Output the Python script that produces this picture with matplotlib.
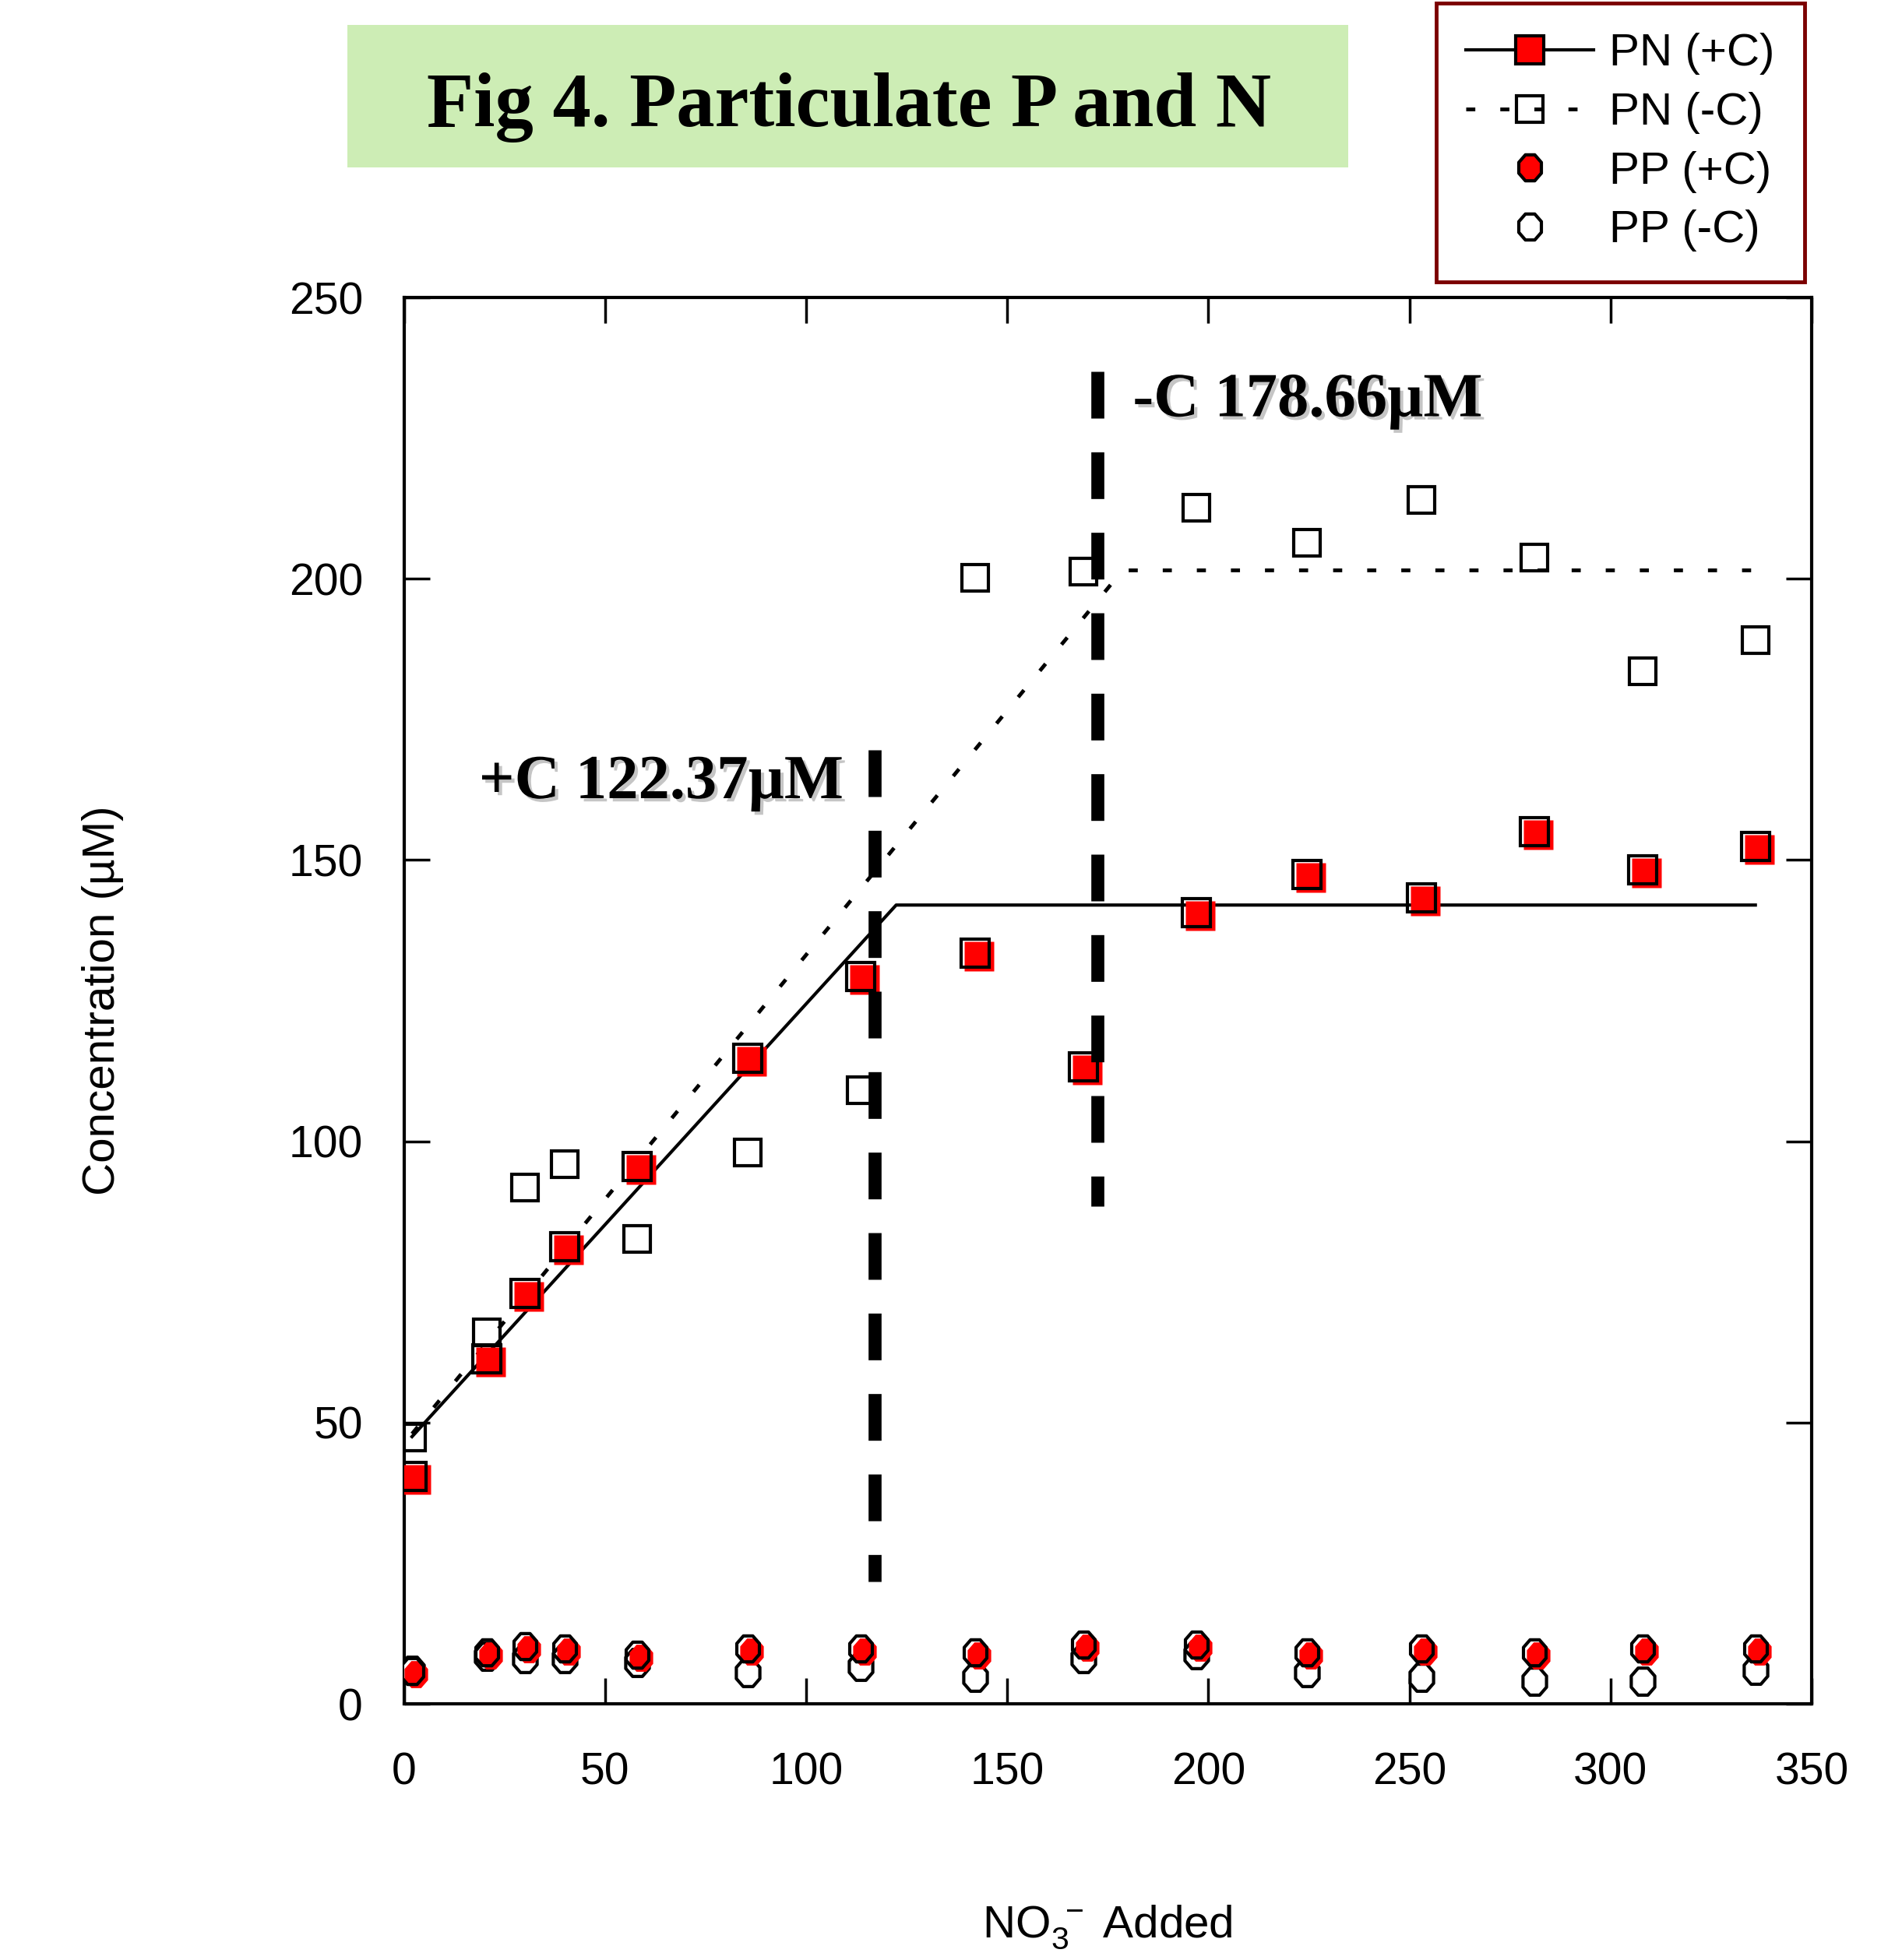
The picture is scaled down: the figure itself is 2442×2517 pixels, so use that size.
import numpy as np
import matplotlib
matplotlib.use("Agg")
import matplotlib.pyplot as plt
import matplotlib.patheffects as pe
from matplotlib.patches import Rectangle
from matplotlib.path import Path
from matplotlib.lines import Line2D
from matplotlib.transforms import offset_copy

plt.rcParams['font.family'] = ['Liberation Sans', 'DejaVu Sans']
plt.rcParams['mathtext.fontset'] = 'custom'
plt.rcParams['mathtext.rm'] = 'Liberation Sans'
plt.rcParams['mathtext.it'] = 'Liberation Sans:italic'

# data
no3_added = [2, 20.5, 30, 40, 58, 85.5, 113.5, 142, 169, 197, 224.5, 253, 281, 308, 336]
pn_plus_c = [40.4, 61.3, 73, 81.3, 95.5, 114.8, 129.3, 133.5, 113.3, 140.6, 147.5, 143.3, 155, 148.2, 152.4]
pn_minus_c = [47.3, 66, 91.8, 96, 82.7, 98, 109.1, 200.2, 201.3, 212.7, 206.4, 214, 203.8, 183.6, 189.1]
pp_plus_c = [5.8, 9.2, 10.3, 9.8, 8.7, 9.8, 9.8, 9.2, 10.5, 10.5, 9.2, 9.8, 9.2, 9.8, 9.8]
pp_minus_c = [6, 8.4, 8, 8, 7.3, 5.5, 6.7, 4.7, 8, 8.7, 5.5, 4.7, 4, 4, 6]

# broken-stick fits
fit_plus_x = [2, 122.37, 336]
fit_plus_y = [47.5, 142, 142]
fit_minus_x = [2, 178.66, 336]
fit_minus_y = [48, 201.5, 201.5]

# hand-drawn break markers
brk_x = [117, 172.5]
brk_ytop = [169.6, 236.9]
brk_ybot = [21.8, 88.4]
brk_labels = ['+C 122.37\u00b5M', '-C 178.66\u00b5M']
brk_label_x = [18.6, 181.2]
brk_label_y = [161, 228.9]

# slightly tall octagon like the original "circles"
ang = np.deg2rad(22.5 + 45 * np.arange(8))
v = np.column_stack([np.cos(ang), 1.15 * np.sin(ang)])
octo = Path(np.vstack([v, v[0]]), closed=True)

fig = plt.figure(figsize=(24.42, 25.17), dpi=100)
ax = fig.add_axes([0.2124, 0.1307, 0.7401, 0.7175])

red_tr = offset_copy(ax.transData, fig=fig, x=5, y=-4, units='dots')
dots = (0, (2.4, 6.6))

ax.plot(fit_plus_x, fit_plus_y, color='k', lw=3, zorder=2)
ax.plot(fit_minus_x, fit_minus_y, color='k', lw=3.5, ls=dots, zorder=2)

# PN (+C): red fill slightly offset under a black outline
ax.plot(no3_added, pn_plus_c, ls='none', marker='s', ms=28, mfc='red', mec='none',
        transform=red_tr, zorder=3)
ax.plot(no3_added, pn_plus_c, ls='none', marker='s', ms=26, mfc='none', mec='k', mew=3, zorder=3)
ax.plot(no3_added, pn_minus_c, ls='none', marker='s', ms=25, mfc='none', mec='k', mew=3, zorder=3)

ax.plot(no3_added, pp_minus_c, ls='none', marker=octo, ms=25, mfc='white', mec='k', mew=3, zorder=3)
ax.plot(no3_added, pp_plus_c, ls='none', marker=octo, ms=25, mfc='red', mec='none',
        transform=red_tr, zorder=3)
ax.plot(no3_added, pp_plus_c, ls='none', marker=octo, ms=24, mfc='none', mec='k', mew=3, zorder=3)

for i in range(len(brk_x)):
    ax.plot([brk_x[i], brk_x[i]], [brk_ytop[i], brk_ybot[i]], color='k', lw=12,
            ls=(0, (3.6, 2.6)), solid_capstyle='butt', dash_capstyle='butt', zorder=4)
    ax.text(brk_label_x[i], brk_label_y[i], brk_labels[i], fontsize=58, fontweight='bold',
            family='Liberation Serif', ha='left', va='baseline', zorder=5,
            path_effects=[pe.SimplePatchShadow(offset=(3, -3), shadow_rgbFace='gray', alpha=0.45),
                          pe.Normal()])

ax.set_xlim(0, 350)
ax.set_ylim(0, 250)
ax.set_xticks(np.arange(0, 351, 50))
ax.set_yticks(np.arange(0, 251, 50))
ax.tick_params(direction='in', length=24, width=2.5, top=True, right=True, labelsize=41)
ax.tick_params(axis='x', pad=44)
ax.tick_params(axis='y', pad=38)
for s in ax.spines.values():
    s.set_linewidth(3)

ax.set_ylabel('Concentration (\u00b5M)', fontsize=42)
ax.yaxis.set_label_coords(-0.199, 0.5)
ax.set_xlabel(r'NO$_3^{\ -}$ Added', fontsize=42)
ax.xaxis.set_label_coords(0.5, -0.142)

# title box
fig.patches.append(Rectangle((0.1826, 0.9146), 0.5262, 0.0727, transform=fig.transFigure,
                             facecolor='#cdedb5', edgecolor='none'))
fig.text(0.4464, 0.9356, 'Fig 4. Particulate P and N', fontsize=71, fontweight='bold',
         family='Liberation Serif', ha='center', va='baseline')

handles = [
    Line2D([], [], color='k', lw=3, marker='s', ms=26, mfc='red', mec='k', mew=3),
    Line2D([], [], color='k', lw=3.5, ls=dots, marker='s', ms=25, mfc='none', mec='k', mew=3),
    Line2D([], [], ls='none', marker=octo, ms=24, mfc='red', mec='k', mew=3),
    Line2D([], [], ls='none', marker=octo, ms=24, mfc='white', mec='k', mew=3),
]
labels = ['PN (+C)', 'PN (-C)', 'PP (+C)', 'PP (-C)']
leg = fig.legend(handles, labels, loc='upper right', bbox_to_anchor=(2317 / 2442, 1 - 4 / 2517),
                 bbox_transform=fig.transFigure, fontsize=42, frameon=True, fancybox=False,
                 handlelength=2.8, handletextpad=0.35, borderpad=0.66, labelspacing=0.37,
                 borderaxespad=0, numpoints=1)
leg.get_frame().set_edgecolor('#7b0000')
leg.get_frame().set_linewidth(3.5)
leg.get_frame().set_alpha(1)

fig.savefig('out.png', dpi=100)
